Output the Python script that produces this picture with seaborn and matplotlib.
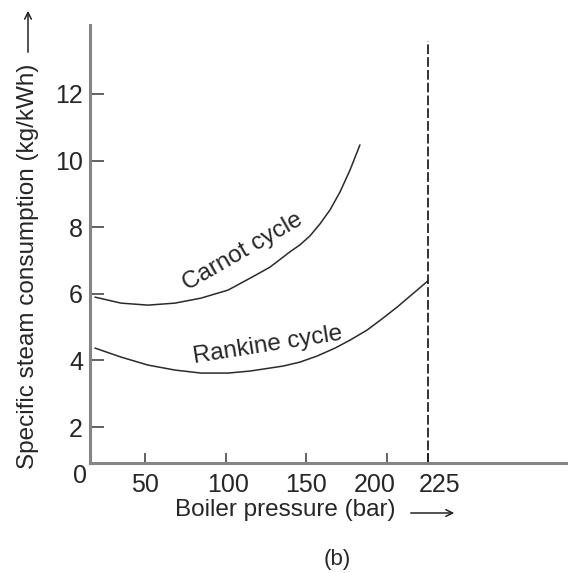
import matplotlib
matplotlib.use("Agg")
import matplotlib.pyplot as plt
from matplotlib.transforms import ScaledTranslation
from matplotlib.patches import FancyArrowPatch
import seaborn as sns
import pandas as pd

# ---- data (boiler pressure in bar, specific steam consumption in kg/kWh) ----
carnot_pressure = [19.1, 35.2, 51.9, 68.6, 84.7, 101.4, 116.3, 127.4, 139.8, 146.0,
                   152.2, 158.4, 164.6, 170.8, 177.0, 183.1]
carnot_ssc = [5.90, 5.72, 5.66, 5.72, 5.87, 6.11, 6.50, 6.80, 7.26, 7.47,
              7.74, 8.10, 8.52, 9.06, 9.72, 10.47]

rankine_pressure = [19.1, 35.2, 51.9, 68.6, 84.7, 101.4, 115.0, 135.5, 146.0, 156.5,
                    167.7, 177.0, 187.5, 197.4, 206.1, 214.1, 225.0]
rankine_ssc = [4.37, 4.10, 3.86, 3.71, 3.62, 3.62, 3.68, 3.83, 3.95, 4.13,
               4.37, 4.61, 4.91, 5.27, 5.60, 5.93, 6.38]

critical_pressure = 225
x_ticks = [50, 100, 150, 200, 225]
x_tick_labels = ["50", "100", "150", "200", "225"]
y_ticks = [2, 4, 6, 8, 10, 12]
y_tick_labels = ["2", "4", "6", "8", "10", "12"]

sns.set_theme(style="white")
plt.rcParams["font.family"] = ["Liberation Sans", "DejaVu Sans"]
plt.rcParams["lines.scale_dashes"] = False

W, H = 568, 573
fig = plt.figure(figsize=(W / 100, H / 100), dpi=100)
ax = fig.add_axes([90 / W, 1 - 463 / H, (W - 90) / W, (463 - 25) / H])

df_c = pd.DataFrame({"p": carnot_pressure, "s": carnot_ssc})
df_r = pd.DataFrame({"p": rankine_pressure, "s": rankine_ssc})
line_col = "#2a2a2a"
sns.lineplot(data=df_c, x="p", y="s", ax=ax, color=line_col, lw=1.1)
sns.lineplot(data=df_r, x="p", y="s", ax=ax, color=line_col, lw=1.1)

ymin, ymax = 0.92, 14.07
ax.set_xlim(16.0, 311.9)
ax.set_ylim(ymin, ymax)

# dashed vertical line at the critical pressure
ax.plot([critical_pressure, critical_pressure], [ymin, 13.59], color="#111111",
        lw=1.2, dashes=(7, 2.2), clip_on=False)

ax.set_xticks(x_ticks)
ax.set_xticklabels(x_tick_labels)
ax.set_yticks(y_ticks)
ax.set_yticklabels(y_tick_labels)
ax.set_xlabel("")
ax.set_ylabel("")

for side in ["top", "right"]:
    ax.spines[side].set_visible(False)
for side in ["left", "bottom"]:
    ax.spines[side].set_color("#858585")
    ax.spines[side].set_linewidth(2.2)

ax.tick_params(axis="y", direction="in", length=10, width=1.3, color="#555555",
               labelsize=18, pad=5, left=True)
ax.tick_params(axis="x", direction="in", length=7, width=1.3, color="#555555",
               labelsize=18, pad=7, bottom=True)

# small horizontal nudges of tick labels, as in the hand-drawn original
nudges = {"100": 2, "200": -13, "225": 12}
for lab in ax.get_xticklabels():
    dx = nudges.get(lab.get_text(), 0)
    if dx:
        lab.set_transform(lab.get_transform() + ScaledTranslation(dx / 100, 0, fig.dpi_scale_trans))

# curve labels
ax.text(110.7, 7.26, "Carnot cycle", rotation=30, fontsize=17.5,
        ha="center", va="center", rotation_mode="anchor")
ax.text(126.2, 4.46, "Rankine cycle", rotation=9, fontsize=17.5,
        ha="center", va="center", rotation_mode="anchor")

# axis titles with arrows
fig.text(28 / W, 1 - 266 / H, "Specific steam consumption (kg/kWh)", rotation=90,
         fontsize=17.5, ha="center", va="center")
fig.text(285 / W, 1 - 510 / H, "Boiler pressure (bar)", fontsize=17.5,
         ha="center", va="center")
fig.add_artist(FancyArrowPatch((28 / W, 1 - 55 / H), (28 / W, 1 - 8 / H),
               transform=fig.transFigure, arrowstyle="->", mutation_scale=12,
               color="#222222", lw=1.1))
fig.add_artist(FancyArrowPatch((408 / W, 1 - 513 / H), (457 / W, 1 - 513 / H),
               transform=fig.transFigure, arrowstyle="->", mutation_scale=12,
               color="#222222", lw=1.1))

fig.text(80 / W, 1 - 476 / H, "0", fontsize=18, ha="center", va="center")
fig.text(337 / W, 1 - 560 / H, "(b)", fontsize=16, ha="center", va="center")

fig.savefig("out.png", dpi=100)
